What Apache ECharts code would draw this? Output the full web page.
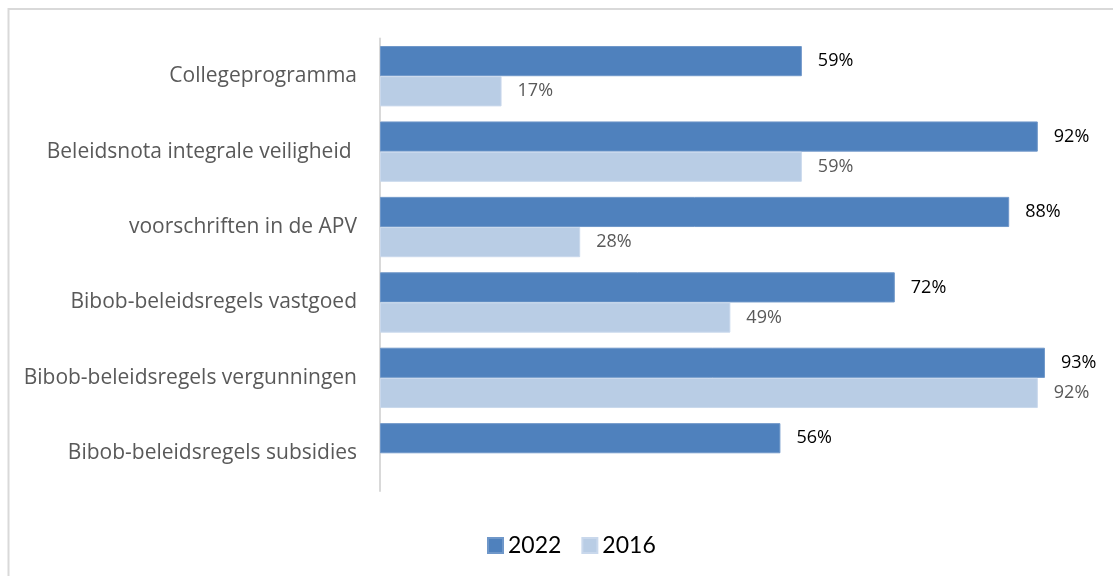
<!DOCTYPE html>
<html>
<head>
<meta charset="utf-8">
<script src="https://cdn.jsdelivr.net/npm/echarts@6/dist/echarts.min.js"></script>
<style>
  html, body { margin: 0; padding: 0; background: #fff; }
  #chart { width: 1113px; height: 576px; }
</style>
</head>
<body>
<div id="chart"></div>
<script>
// categories top to bottom
const categories = [
  'Collegeprogramma',
  'Beleidsnota integrale veiligheid ',
  'voorschriften in de APV',
  'Bibob-beleidsregels vastgoed',
  'Bibob-beleidsregels vergunningen',
  'Bibob-beleidsregels subsidies'
]
const values2022 = [59, 92, 88, 72, 93, 56]
const values2016 = [17, 59, 28, 49, 92, null]
const seriesNames = ['2022', '2016']

const font = '"Open Sans", Lato, sans-serif'

const chart = echarts.init(document.getElementById('chart'))

const option = {
  backgroundColor: '#fff',
  animation: false,
  graphic: [{
    type: 'rect',
    shape: { x: 8.5, y: 9, width: 1200, height: 700 },
    style: { fill: 'none', stroke: '#d9d9d9', lineWidth: 2 },
    silent: true
  }],
  grid: {
    top: 38.5,
    bottom: 85,
    left: 380,
    right: 18
  },
  legend: {
    bottom: 14,
    left: 482,
    icon: 'rect',
    itemWidth: 15,
    itemHeight: 15,
    itemGap: 20,
    data: seriesNames,
    textStyle: { fontFamily: 'Lato, sans-serif', fontSize: 23, color: '#000' }
  },
  xAxis: {
    type: 'value',
    min: 0,
    max: 100,
    show: false
  },
  yAxis: {
    type: 'category',
    inverse: true,
    data: categories,
    axisTick: { show: false },
    axisLine: { show: true, lineStyle: { color: '#d9d9d9', width: 2 } },
    axisLabel: {
      margin: 23,
      fontFamily: font,
      fontSize: 21,
      color: '#595959',
      padding: [3, 0, 0, 0]
    },
    splitLine: { show: false }
  },
  series: [
    {
      name: seriesNames[0],
      type: 'bar',
      barGap: '0%',
      barCategoryGap: '20%',
      itemStyle: { color: '#4f81bd', borderColor: '#6f97c9', borderWidth: 1 },
      label: {
        show: true,
        position: 'right',
        distance: 16,
        formatter: '{c}%',
        fontFamily: font,
        fontSize: 18,
        color: '#000'
      },
      data: values2022
    },
    {
      name: seriesNames[1],
      type: 'bar',
      barGap: '0%',
      barCategoryGap: '20%',
      itemStyle: { color: '#b9cde5', borderColor: '#c9d8ec', borderWidth: 1 },
      label: {
        show: true,
        position: 'right',
        distance: 16,
        formatter: '{c}%',
        fontFamily: font,
        fontSize: 18,
        color: '#595959'
      },
      data: values2016
    }
  ]
}

chart.setOption(option)
</script>
</body>
</html>
